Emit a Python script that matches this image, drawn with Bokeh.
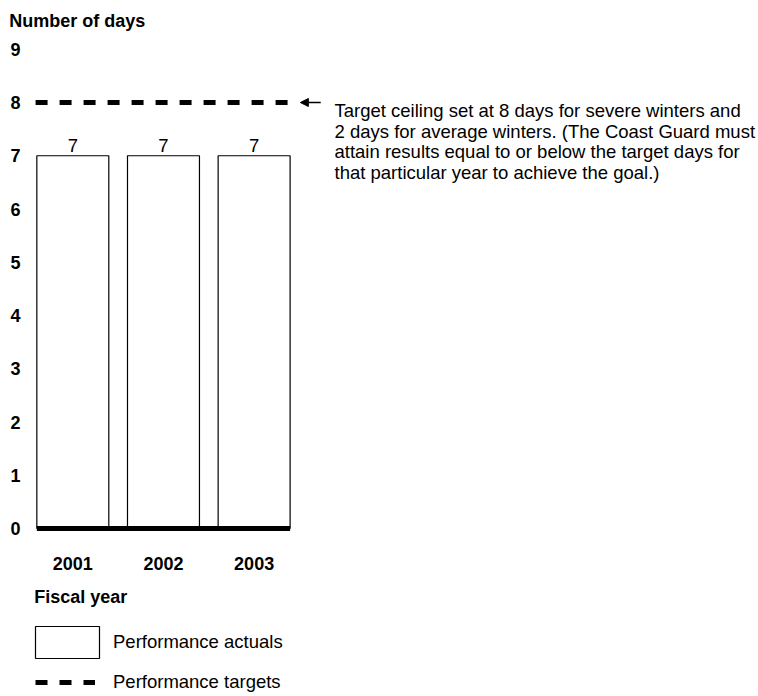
from bokeh.plotting import figure
from bokeh.models import Range1d, Label, Arrow, NormalHead, Legend, LegendItem
from bokeh.core.properties import value
from bokeh.embed import file_html
from bokeh.resources import INLINE

# ---- data ----
years = ["2001", "2002", "2003"]
actuals = [7, 7, 7]
target = 8
y_ticks = [0, 1, 2, 3, 4, 5, 6, 7, 8, 9]
y_title = "Number of days"
x_title = "Fiscal year"
legend_labels = ["Performance actuals", "Performance targets"]
note_lines = [
    "Target ceiling set at 8 days for severe winters and",
    "2 days for average winters. (The Coast Guard must",
    "attain results equal to or below the target days for",
    "that particular year to achieve the goal.)",
]

# ---- layout ----
FONT = "Liberation Sans"
W, H = 758, 696
LEFT, TOP = 27, 34
PX_X = 90.65      # pixels per category step
PX_Y = 53.25      # pixels per day
ZERO_Y = 528      # canvas y of value 0
BW = 0.794
NORMAL = "18.5px"
BOLD = "18px"

xs = list(range(len(years)))

p = figure(width=W, height=H, output_backend="svg", toolbar_location=None,
           x_range=Range1d(-0.5, -0.5 + (W - LEFT) / PX_X),
           y_range=Range1d(-(H - ZERO_Y) / PX_Y, (ZERO_Y - TOP) / PX_Y),
           x_axis_location=None, y_axis_location="left",
           min_border_left=LEFT, min_border_right=0, min_border_top=TOP, min_border_bottom=0)
p.outline_line_color = None
p.grid.visible = False
p.background_fill_color = "white"
p.border_fill_color = "white"

p.title.text = y_title
p.title.align = "left"
p.title.offset = -18.3
p.title.standoff = 8
p.title.text_font = FONT
p.title.text_font_size = BOLD
p.title.text_font_style = "bold"
p.title.text_color = "black"

ax = p.yaxis[0]
ax.ticker = y_ticks
ax.axis_line_color = None
ax.major_tick_line_color = None
ax.minor_tick_line_color = None
ax.major_tick_out = 0
ax.major_tick_in = 0
ax.major_label_standoff = 7
ax.major_label_text_font = FONT
ax.major_label_text_font_size = BOLD
ax.major_label_text_font_style = "bold"
ax.major_label_text_color = "black"

# bars
bars = p.vbar(x=xs, top=actuals, bottom=0, width=BW, fill_color="white",
              line_color="black", line_width=1.2)
# value labels
p.text(x=xs, y=actuals, text=[str(v) for v in actuals], text_align="center",
       text_baseline="alphabetic", y_offset=-10, text_font=value(FONT),
       text_font_size=NORMAL, text_color="black")
# thick baseline
p.line(x=[xs[0] - BW / 2, xs[-1] + BW / 2], y=[0, 0], line_width=5, line_color="black")
# category labels
p.text(x=xs, y=[0] * len(xs), text=years, text_align="center",
       text_baseline="alphabetic", y_offset=35, text_font=value(FONT),
       text_font_size=BOLD, text_font_style="bold", text_color="black")
# target line
tline = p.line(x=[xs[0] - 0.411, xs[-1] + 0.402], y=[target, target], line_width=5,
               line_color="black", line_dash="12 12")
# arrow
p.add_layout(Arrow(end=NormalHead(size=8, fill_color="black", line_color="black"),
                   x_start=xs[-1] + 0.735, y_start=target, x_end=xs[-1] + 0.51, y_end=target,
                   line_width=1.3, line_color="black"))

# note (screen units relative to the plot frame)
for i, line in enumerate(note_lines):
    p.add_layout(Label(x=307, y=586.3 - 20.8 * i, x_units="screen", y_units="screen",
                       text=line, text_font=FONT, text_font_size=NORMAL,
                       text_baseline="alphabetic", text_color="black"))

p.add_layout(Label(x=6.7, y=100, x_units="screen", y_units="screen", text=x_title,
                   text_font=FONT, text_font_size=BOLD, text_font_style="bold",
                   text_baseline="alphabetic", text_color="black"))

# legends
common = dict(padding=0, margin=0, border_line_color=None, background_fill_alpha=0,
              label_text_font=FONT, label_text_font_size=NORMAL, label_text_color="black",
              orientation="vertical")
lg1 = Legend(items=[LegendItem(label=legend_labels[0], renderers=[bars])],
             location=(0, 34), glyph_width=80, glyph_height=40, label_standoff=6, **common)
lg2 = Legend(items=[LegendItem(label=legend_labels[1], renderers=[tline])],
             location=(8, 2.3), glyph_width=60, glyph_height=24, label_standoff=18, **common)
p.add_layout(lg1)
p.add_layout(lg2)

open("out.html", "w").write(file_html(p, INLINE))
